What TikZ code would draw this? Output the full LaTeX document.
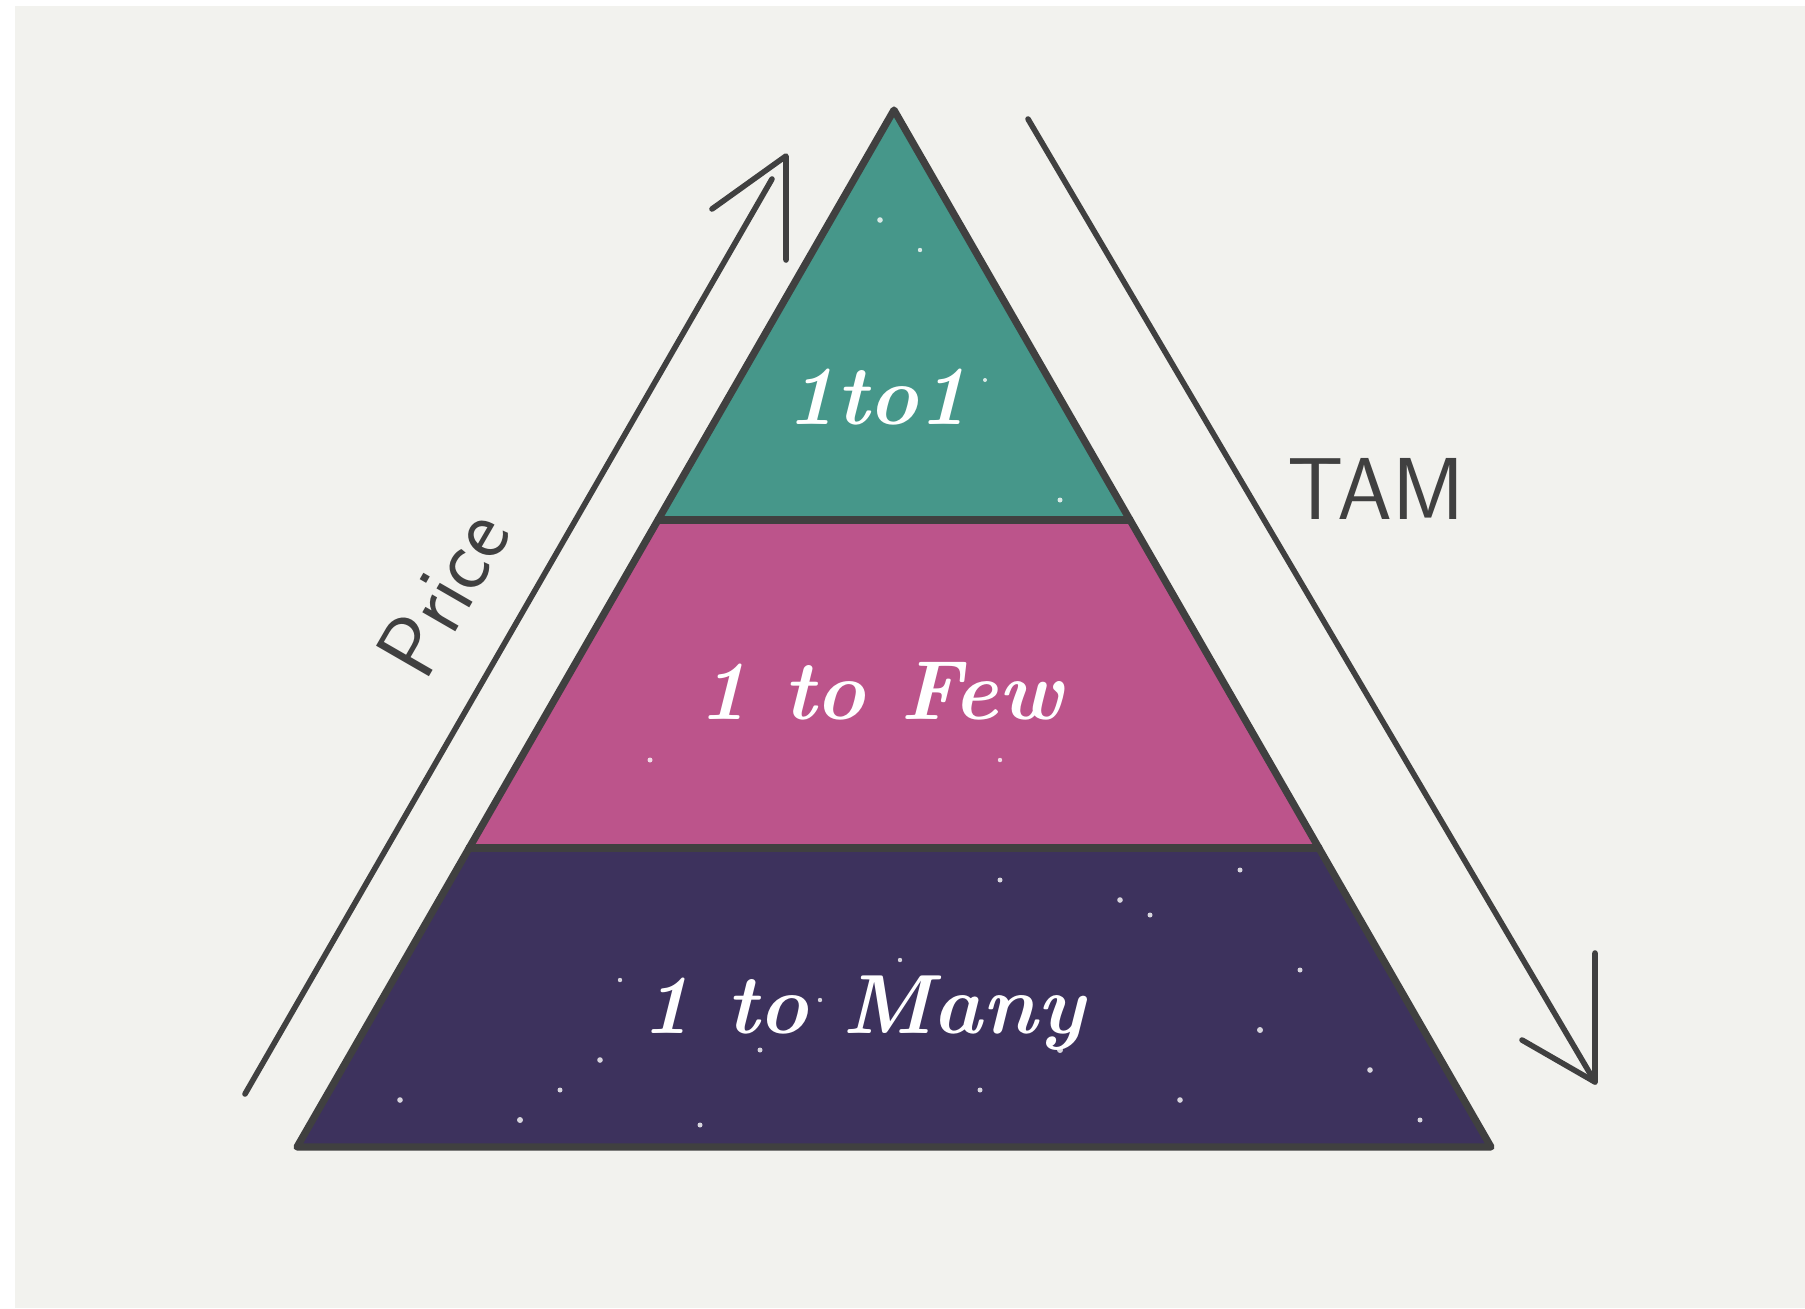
\documentclass[tikz,border=0pt]{standalone}
\usepackage{fontspec}
\begin{document}
\definecolor{bgc}{HTML}{F2F2EE}
\definecolor{teal1}{HTML}{46978A}
\definecolor{pink1}{HTML}{BC548B}
\definecolor{purple1}{HTML}{3D325D}
\definecolor{ink}{HTML}{404040}
\begin{tikzpicture}[x=0.5pt,y=-0.5pt,line join=round,line cap=round,
  outline/.style={draw=ink,line width=3.6pt},
  pen/.style={draw=ink,line width=2.8pt},
  tierlabel/.style={text=white,font=\bfseries\itshape\fontsize{42}{50}\selectfont,inner sep=0pt},
  sidelabel/.style={text=ink,font=\sffamily\fontsize{44}{52}\selectfont,inner sep=0pt},
  star/.style={fill=white,opacity=0.8}]
\useasboundingbox (0,0) rectangle (1805,1308);
\fill[white] (0,0) rectangle (1805,1308);
\fill[bgc] (15,6) rectangle (1805,1308);
% pyramid corners
\coordinate (apex) at (894,110);
\coordinate (bl) at (297,1147);
\coordinate (br) at (1491,1147);
\coordinate (l1) at (658,520);
\coordinate (r1) at (1130,520);
\coordinate (l2) at (469,848);
\coordinate (r2) at (1319,848);
% tiers
\fill[teal1] (apex) -- (l1) -- (r1) -- cycle;
\fill[pink1] (l1) -- (r1) -- (r2) -- (l2) -- cycle;
\fill[purple1] (l2) -- (r2) -- (br) -- (bl) -- cycle;
% stars
\foreach \x/\y/\r in {520/1120/3,560/1090/2.5,600/1060/2.8,700/1125/2.5,1060/1050/3,1260/1030/3,1370/1070/2.8,1120/900/2.8,1150/915/2.5,1240/870/2.5,1000/880/2.5,820/1000/2.2,760/1050/2.5,980/1090/2.5,1180/1100/2.8,1420/1120/2.5,400/1100/2.8,620/980/2.2,900/960/2.2,1300/970/2.5,650/760/2.5,1000/760/2.2,880/220/2.8,920/250/2.2,1060/500/2.5,985/380/2}
  \fill[star] (\x,\y) circle[radius=\r];
% outline
\draw[outline] (apex) -- (br) -- (bl) -- cycle;
\draw[outline] (l1) -- (r1);
\draw[outline] (l2) -- (r2);
% tier labels
\node[tierlabel] (t1) at (877,397) {1to1};
\node[tierlabel] (t2) at (881,691) {1 to Few};
\node[tierlabel] (t3) at (863,1013) {1 to Many};
% price arrow
\coordinate (ps) at (245,1094);
\coordinate (pe) at (772,179);
\coordinate (ptip) at (786,156);
\coordinate (pb1) at (712,209);
\coordinate (pb2) at (786,260);
\draw[pen] (ps) -- (pe);
\draw[pen] (pb1) -- (ptip) -- (pb2);
\node[sidelabel,rotate=60] (price) at (443,593) {Price};
% TAM arrow
\coordinate (ts) at (1028,119);
\coordinate (ttip) at (1595,1082);
\coordinate (tb1) at (1595,953);
\coordinate (tb2) at (1522,1040);
\draw[pen] (ts) -- (ttip);
\draw[pen] (tb1) -- (ttip) -- (tb2);
\node[sidelabel] (tam) at (1376,489) {TAM};
\end{tikzpicture}
\end{document}
